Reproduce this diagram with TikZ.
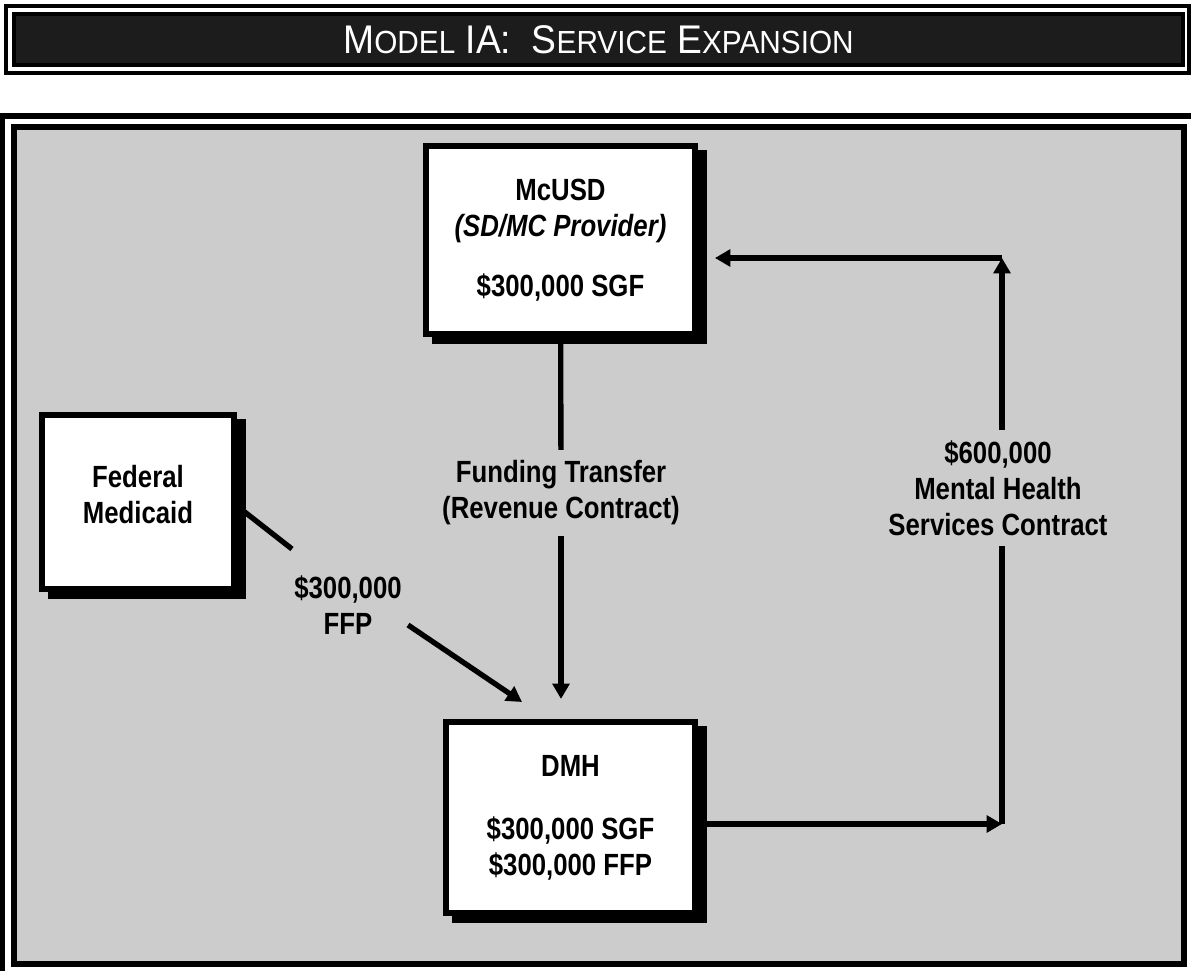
\documentclass[tikz,border=0pt]{standalone}
\usepackage{fontspec}
\setmainfont{Liberation Sans}[FakeStretch=0.84]
\newfontfamily\titlefont{Liberation Sans}[FakeStretch=0.93]
\usepackage{xcolor}
\usetikzlibrary{arrows.meta}
\usetikzlibrary{shadows}
\definecolor{panelgray}{RGB}{204,204,204}
\definecolor{bardark}{RGB}{28,28,28}
\newcommand{\tcap}[2]{#1{\fontsize{24}{24}\selectfont #2}}
\tikzset{
  agency/.style={draw=black, fill=white, line width=4.2pt, align=center,
    font=\fontsize{23}{27}\selectfont\bfseries,
    drop shadow={shadow xshift=7pt, shadow yshift=-5pt, fill=black, draw=black, line width=4.2pt, opacity=1}},
  amount/.style={align=center, font=\fontsize{23}{27}\selectfont\bfseries, inner xsep=2pt},
  flow/.style={line width=4pt},
}

\begin{document}
\begin{tikzpicture}[x=0.75pt, y=-0.75pt, >={Triangle[length=11.5pt,width=12.5pt]}]
    \useasboundingbox (0,0) rectangle (1191,970);
    \fill[white] (0,0) rectangle (1191,970);
    % title bar
    \draw[line width=3pt] (6,6) rectangle (1189,73);
    \node[draw=black, fill=bardark, line width=3pt, minimum width=876.75pt, minimum height=38.25pt, text=white, font=\titlefont\fontsize{30}{30}\selectfont] (title) at (598.5,39.5) {\tcap{M}{ODEL} IA:\ \ \tcap{S}{ERVICE} \tcap{E}{XPANSION}};
    % panel
    \draw[line width=4.1pt] (2.5,116) rectangle (1200,990);
    \draw[line width=4.5pt, fill=panelgray] (13.5,127) rectangle (1184,964);
    % boxes
    \node[agency, minimum width=202pt, minimum height=141.4pt] (mcusd) at (560.5,240) {McUSD\\\textit{(SD/MC Provider)}\\[18pt]\$300,000 SGF};
    \node[agency, minimum width=144.4pt, minimum height=130.9pt, text depth=11pt] (fed) at (138,502) {Federal\\Medicaid};
    \node[agency, minimum width=187.1pt, minimum height=143.6pt] (dmh) at (570.5,817.5) {DMH\\[20pt]\$300,000 SGF\\\$300,000 FFP};
    % labels
    \node[amount, inner ysep=8pt] (fund) at (561,493) {Funding Transfer\\(Revenue Contract)};
    \node[amount] (ffp) at (348,605) {\$300,000\\FFP};
    \node[amount, inner ysep=7.5pt] (mhsc) at (998,488) {\$600,000\\Mental Health\\Services Contract};
    \coordinate (ffpa) at (292,549);
    \coordinate (ffpb) at (408,625);
    \coordinate (ffptip) at (522,702);
    \coordinate (mhsbot) at (1002,824);
    \coordinate (mhstop) at (1002,258);
    % connectors
    \draw[flow] (mcusd) -- (fund);
    \draw[flow, ->, shorten >=15pt] (fund) -- (fund |- dmh.north);
    \draw[flow] ([yshift=-3pt]fed.east) -- (ffpa);
    \draw[flow, ->] (ffpb) -- (ffptip);
    \draw[flow, ->] (dmh.east |- mhsbot) -- (mhsbot);
    \draw[flow] (mhsbot) -- (mhsbot |- mhsc.south);
    \draw[flow, ->] (mhsbot |- mhsc.north) -- (mhstop);
    \draw[flow, ->, shorten >=12.75pt] (mhstop) -- (mcusd.east |- mhstop);
\end{tikzpicture}
\end{document}
